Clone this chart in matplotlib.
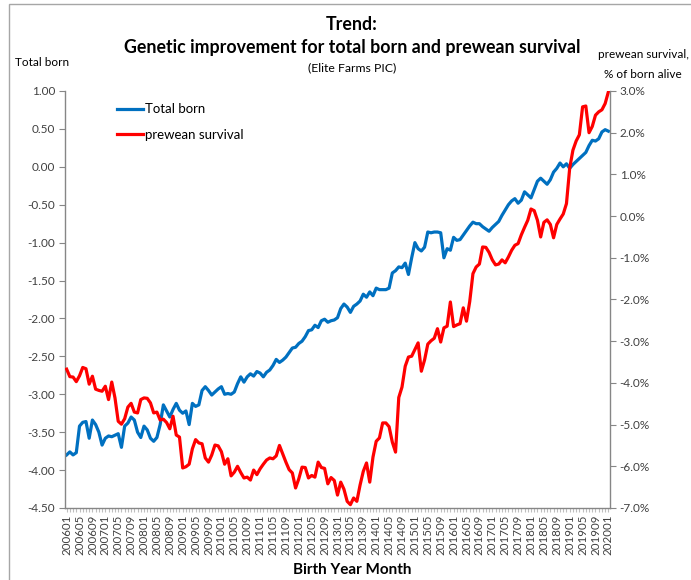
import matplotlib
matplotlib.use("Agg")
import matplotlib.pyplot as plt
from matplotlib.patches import Rectangle
from matplotlib.ticker import FixedLocator, MultipleLocator, FuncFormatter

plt.rcParams['font.family'] = ['Lato', 'DejaVu Sans']

# ---- data ----
months = []
for y in range(2006, 2021):
    for m in range(1, 13):
        months.append(f"{y}{m:02d}")
months = months[:169]          # 200601 .. 202001

total_born = [
    -3.80, -3.76, -3.80, -3.77, -3.42, -3.37, -3.36, -3.58, -3.34, -3.40,
    -3.50, -3.67, -3.58, -3.55, -3.56, -3.54, -3.52, -3.70, -3.42, -3.38,
    -3.30, -3.34, -3.50, -3.57, -3.42, -3.47, -3.58, -3.62, -3.57, -3.40,
    -3.14, -3.22, -3.30, -3.20, -3.12, -3.21, -3.25, -3.22, -3.40, -3.12,
    -3.16, -3.14, -2.95, -2.90, -2.95, -3.01, -2.97, -2.93, -2.90, -3.00,
    -2.99, -3.00, -2.97, -2.86, -2.77, -2.84, -2.77, -2.73, -2.76, -2.70,
    -2.72, -2.77, -2.71, -2.68, -2.62, -2.54, -2.58, -2.55, -2.51, -2.45,
    -2.39, -2.38, -2.33, -2.30, -2.24, -2.16, -2.15, -2.09, -2.12, -2.03,
    -2.01, -2.05, -2.03, -2.02, -1.99, -1.87, -1.81, -1.85, -1.92, -1.84,
    -1.81, -1.77, -1.68, -1.72, -1.65, -1.70, -1.60, -1.62, -1.62, -1.62,
    -1.60, -1.40, -1.37, -1.32, -1.33, -1.27, -1.42, -1.20, -1.00, -1.08,
    -1.11, -1.06, -0.86, -0.87, -0.86, -0.86, -0.87, -1.20, -1.08, -1.10,
    -0.93, -0.97, -0.96, -0.90, -0.84, -0.78, -0.73, -0.75, -0.75, -0.79,
    -0.82, -0.85, -0.80, -0.76, -0.72, -0.64, -0.57, -0.50, -0.45, -0.42,
    -0.48, -0.44, -0.33, -0.37, -0.41, -0.30, -0.19, -0.15, -0.19, -0.23,
    -0.17, -0.07, -0.02, 0.05, 0.00, 0.04, -0.02, 0.03, 0.07, 0.11,
    0.15, 0.19, 0.28, 0.35, 0.34, 0.37, 0.46, 0.49, 0.47,
]

prewean_survival = [
    -3.67, -3.85, -3.86, -3.97, -3.83, -3.63, -3.66, -4.03, -3.84, -4.15,
    -4.18, -4.20, -4.08, -4.40, -3.98, -4.36, -4.92, -4.99, -4.86, -4.58,
    -4.49, -4.70, -4.72, -4.40, -4.36, -4.37, -4.48, -4.72, -4.70, -4.89,
    -4.87, -4.95, -5.10, -4.80, -5.25, -5.30, -6.04, -6.01, -5.95, -5.58,
    -5.36, -5.44, -5.46, -5.80, -5.90, -5.73, -5.49, -5.51, -5.65, -5.95,
    -5.82, -6.23, -6.14, -6.00, -6.15, -6.28, -6.26, -6.33, -6.09, -6.20,
    -6.06, -5.95, -5.85, -5.80, -5.82, -5.75, -5.50, -5.70, -5.90, -6.08,
    -6.16, -6.52, -6.30, -6.02, -6.03, -6.28, -6.22, -6.26, -5.90, -6.03,
    -6.05, -6.42, -6.27, -6.34, -6.69, -6.38, -6.55, -6.84, -6.92, -6.76,
    -6.84, -6.45, -6.12, -5.92, -6.38, -5.78, -5.40, -5.32, -4.96, -4.96,
    -5.05, -5.42, -5.66, -4.35, -4.10, -3.60, -3.38, -3.36, -3.20, -3.04,
    -3.72, -3.45, -3.07, -2.99, -2.93, -2.70, -3.02, -2.68, -2.64, -2.06,
    -2.65, -2.61, -2.58, -2.20, -2.52, -2.05, -1.38, -1.22, -1.15, -0.74,
    -0.75, -0.87, -1.05, -1.17, -1.15, -1.05, -1.12, -0.98, -0.82, -0.70,
    -0.66, -0.45, -0.27, -0.10, 0.17, 0.13, -0.10, -0.50, -0.15, -0.09,
    -0.20, -0.52, -0.20, -0.07, 0.05, 0.30, 1.15, 1.58, 1.80, 1.95,
    2.62, 2.64, 2.00, 2.15, 2.42, 2.50, 2.55, 2.70, 2.98,
]

left_ticks = [1.00, 0.50, 0.00, -0.50, -1.00, -1.50, -2.00, -2.50, -3.00, -3.50, -4.00, -4.50]
right_ticks = [3.0, 2.0, 1.0, 0.0, -1.0, -2.0, -3.0, -4.0, -5.0, -6.0, -7.0]

# ---- figure ----
W, H = 691, 580
fig = plt.figure(figsize=(W / 100, H / 100), dpi=100)
ax = fig.add_axes([65 / W, 1 - 508 / H, (610 - 65) / W, (508 - 91) / H])
ax2 = ax.twinx()

# chart border
fig.patches.append(Rectangle((9 / W, -0.05), 1.2, 1 - 4 / H + 0.05,
                             transform=fig.transFigure, fill=False,
                             edgecolor='#A6A6A6', linewidth=1.0))

x = list(range(len(months)))
l1, = ax.plot(x, total_born, color='#0070C0', lw=2.3, solid_joinstyle='round',
              label='Total born')
l2, = ax2.plot(x, prewean_survival, color='#FF0000', lw=2.3,
               solid_joinstyle='round', label='prewean survival')

ax.set_xlim(-0.5, len(months) - 0.5)
ax.set_ylim(-4.5, 1.0)
ax2.set_ylim(-7.0, 3.0)

gray = '#868686'
for a in (ax, ax2):
    for s in a.spines.values():
        s.set_color(gray)
        s.set_linewidth(1.0)
    a.spines['top'].set_visible(False)
ax.spines['right'].set_visible(False)
ax2.spines['left'].set_visible(False)
ax2.spines['bottom'].set_visible(False)

ax.yaxis.set_major_locator(FixedLocator(left_ticks))
ax.yaxis.set_major_formatter(FuncFormatter(lambda v, p: f"{v:.2f}"))
ax2.yaxis.set_major_locator(FixedLocator(right_ticks))
ax2.yaxis.set_major_formatter(FuncFormatter(lambda v, p: f"{v:.1f}%"))

ax.tick_params(axis='y', direction='out', length=4, color=gray,
               labelsize=8.5, labelcolor='#404040', pad=3)
ax2.tick_params(axis='y', direction='out', length=4, color=gray,
                labelsize=8.5, labelcolor='#404040', pad=3)

ax.set_xticks(x[::4])
ax.set_xticklabels(months[::4], rotation=90, fontsize=8.3, color='#404040')
ax.xaxis.set_minor_locator(MultipleLocator(1))
ax.tick_params(axis='x', which='both', direction='out', length=3,
               color='#BFBFBF', width=0.8, pad=2)

# legend
ax2.legend(handles=[l1, l2], loc='upper left', bbox_to_anchor=(0.085, 0.983),
           frameon=False, fontsize=9.5, handlelength=2.0, handletextpad=0.15,
           labelspacing=1.0, borderaxespad=0)

# texts
cx = 352 / W
fig.text(cx, 1 - 25 / H, "Trend:", ha='center', va='center',
         fontsize=12.8, fontweight='bold')
fig.text(cx, 1 - 47 / H, "Genetic improvement for total born and prewean survival",
         ha='center', va='center', fontsize=12.8, fontweight='bold')
fig.text(cx, 1 - 68 / H, "(Elite Farms PIC)", ha='center', va='center', fontsize=8.8)
fig.text(15 / W, 1 - 62 / H, "Total born", ha='left', va='center', fontsize=8.5)
fig.text(643 / W, 1 - 55 / H, "prewean survival,", ha='center', va='center', fontsize=8.5)
fig.text(643 / W, 1 - 75 / H, "% of born alive", ha='center', va='center', fontsize=8.5)
fig.text(cx, 1 - 570 / H, "Birth Year Month", ha='center', va='center',
         fontsize=11, fontweight='bold')

fig.savefig("out.png", dpi=100)
